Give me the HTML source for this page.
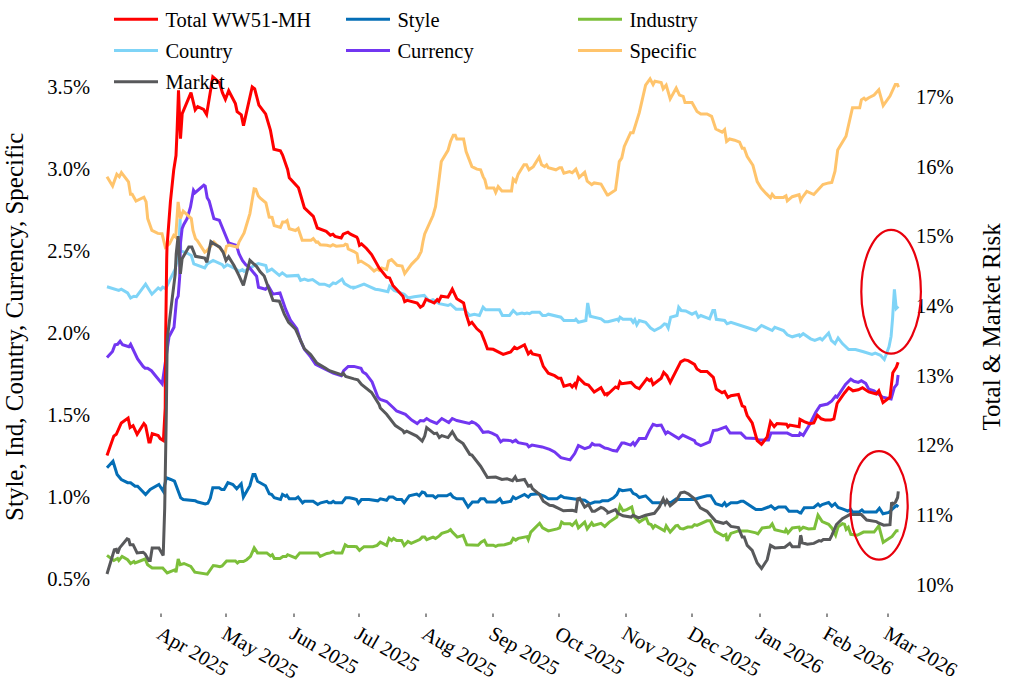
<!DOCTYPE html>
<html><head><meta charset="utf-8"><title>Risk chart</title>
<style>
html,body{margin:0;padding:0;background:#fff;}
body{width:1015px;height:694px;overflow:hidden;font-family:"Liberation Serif",serif;}
svg{display:block}
svg text{font-family:"Liberation Serif",serif;fill:#000;}
</style></head><body>
<svg width="1015" height="694" viewBox="0 0 1015 694">
<rect width="1015" height="694" fill="#fff"/>
<g id="lines">
<polyline points="107.0,467.7 113.0,461.2 117.1,474.4 121.3,479.5 127.6,482.7 130.6,482.7 135.1,486.2 137.6,486.2 145.6,494.5 150.2,489.5 158.9,484.5 163.2,491.2 166.4,477.7 170.7,479.5 174.5,481.2 180.7,497.8 183.2,499.5 195.3,500.8 197.8,502.0 205.3,504.0 207.8,503.3 210.3,498.3 212.8,487.7 219.1,487.7 221.6,489.5 224.1,489.5 227.9,482.7 232.9,484.5 236.7,488.7 241.2,483.7 243.4,497.0 249.9,485.7 253.0,474.4 255.0,474.4 257.5,481.2 265.5,485.7 269.3,493.8 271.8,494.5 274.3,497.8 280.5,499.5 282.5,494.5 285.6,496.3 286.8,495.3 289.3,498.8 295.6,498.8 298.1,497.0 302.6,502.8 304.4,501.3 313.1,501.3 317.7,504.5 320.7,502.8 326.9,501.3 328.7,502.8 331.2,502.8 333.2,501.3 335.2,502.8 342.0,502.8 345.7,497.8 349.5,497.8 354.0,498.8 356.5,499.5 358.5,503.3 361.5,499.5 369.0,499.5 377.8,500.8 380.3,498.8 386.6,500.3 389.1,497.0 392.9,497.0 396.6,499.5 401.6,499.5 404.2,502.8 409.2,495.8 416.7,494.0 419.2,495.8 422.2,492.0 424.7,492.8 426.7,495.8 433.0,495.8 435.5,497.8 438.0,495.8 446.8,495.8 450.5,493.8 453.0,497.0 456.8,498.8 463.1,498.8 468.1,507.0 472.4,502.0 478.1,502.0 480.6,498.8 484.4,498.8 486.9,502.0 495.7,502.0 499.9,498.8 502.4,502.8 510.7,501.3 513.2,497.0 515.7,498.8 524.5,494.5 528.3,497.0 530.8,494.5 538.3,493.8 544.6,496.3 548.3,498.8 557.1,498.8 560.9,495.8 564.1,497.5 578.4,499.5 584.7,500.3 589.7,503.8 594.7,502.0 599.7,502.0 602.2,500.8 608.0,500.8 613.5,497.8 616.8,494.5 619.3,489.5 622.5,490.7 630.6,489.5 633.1,493.3 636.1,494.5 639.3,497.5 645.6,495.8 652.6,502.8 661.9,502.8 664.4,501.3 670.7,502.8 676.2,498.8 678.7,499.5 694.5,499.5 699.5,497.8 707.0,495.8 710.8,495.8 715.8,503.8 722.1,505.8 724.6,502.8 726.4,505.8 730.9,502.8 737.1,502.8 740.9,501.3 743.4,501.3 755.9,509.6 761.5,509.6 768.5,507.0 771.0,505.8 774.8,509.1 778.5,507.0 785.5,507.0 789.0,511.3 797.3,511.3 800.6,513.3 800.0,514.1 804.2,507.8 813.8,507.4 818.0,504.0 820.1,506.1 822.2,504.6 828.6,502.5 831.8,506.1 835.0,503.5 838.1,507.4 842.4,508.8 847.7,511.0 850.8,509.5 852.5,512.0 859.3,512.0 861.9,509.9 864.0,512.0 876.3,512.0 879.4,508.2 883.0,513.7 889.0,512.4 891.5,510.0 895.6,506.1 896.7,505.6 898.3,506.9" fill="none" stroke="#046eb6" stroke-width="3.0" stroke-linejoin="miter" stroke-miterlimit="3" stroke-linecap="butt"/>
<polyline points="107.0,555.4 113.8,560.5 117.6,558.5 118.8,560.5 122.1,556.4 127.6,559.7 130.6,563.5 133.9,561.5 135.1,563.0 145.1,559.0 147.6,564.7 152.2,568.0 162.7,568.0 167.2,573.0 175.2,569.7 176.0,572.2 178.2,559.0 180.2,564.7 184.0,563.5 190.8,566.5 194.8,572.2 207.3,574.2 213.3,565.5 216.6,566.0 219.9,566.7 222.1,566.0 226.6,561.0 235.4,561.0 237.4,563.0 239.2,561.5 243.4,561.5 246.7,559.7 250.5,556.4 254.2,547.9 257.5,552.9 266.8,552.9 270.5,555.9 272.3,554.7 274.3,558.5 280.0,558.5 283.0,556.4 286.1,556.4 287.6,554.7 295.6,557.9 299.8,552.9 317.7,552.9 320.2,556.4 326.9,553.4 330.2,552.9 333.2,551.4 335.2,552.9 342.0,552.9 345.2,544.7 347.7,546.4 354.0,546.4 356.5,546.7 359.5,550.4 364.0,546.7 372.8,546.7 377.1,545.4 380.3,542.2 386.6,545.4 389.1,538.4 391.6,540.4 393.6,538.4 396.6,540.4 401.6,540.4 404.2,545.4 407.9,541.4 411.2,543.4 419.7,539.6 422.2,537.1 424.7,537.1 426.7,539.6 433.0,537.1 435.5,538.4 439.3,535.9 441.8,533.4 448.0,531.4 450.5,529.6 452.3,532.1 457.3,537.1 463.1,535.4 466.8,544.7 478.1,545.2 481.1,542.2 484.4,540.4 486.9,545.2 493.2,545.2 495.7,546.4 498.2,545.2 504.5,544.7 510.7,542.9 513.2,538.4 515.7,540.1 518.2,538.4 527.0,536.6 528.3,539.6 530.8,532.1 539.6,523.3 542.6,527.9 548.3,530.9 557.1,528.9 559.6,527.9 561.6,522.1 564.1,523.8 570.1,523.8 572.2,525.4 575.9,521.3 578.4,527.9 584.7,522.1 587.2,528.9 591.7,522.8 593.5,525.4 601.0,523.3 604.8,526.4 608.0,523.3 609.3,522.1 616.8,517.1 620.0,505.8 623.0,510.8 626.8,509.6 631.8,507.0 634.3,517.1 639.3,522.1 646.1,517.8 648.6,523.8 651.1,524.6 653.1,527.9 655.1,525.4 664.4,530.9 666.2,525.9 670.2,532.1 675.7,525.9 677.7,525.4 680.2,528.4 683.2,528.9 687.7,527.1 692.0,527.1 694.5,524.6 697.0,525.4 707.0,520.8 710.3,520.8 715.3,531.4 723.3,535.9 725.9,534.6 727.1,540.9 730.9,533.4 738.4,530.9 747.2,530.9 755.9,532.9 757.9,533.9 762.2,527.9 769.7,527.1 772.2,523.8 774.8,529.6 784.8,532.1 786.0,529.6 788.0,532.9 792.3,527.9 799.1,527.1 800.0,530.0 803.2,527.3 808.5,529.0 814.4,528.5 818.0,515.2 822.2,521.6 828.6,524.3 831.8,527.9 835.6,535.3 838.1,526.8 842.4,523.7 844.5,524.3 846.2,529.4 848.3,527.3 850.8,534.3 857.2,535.3 863.5,532.1 874.1,532.1 878.8,525.8 883.2,542.3 892.1,536.4 896.4,530.7 898.5,530.7" fill="none" stroke="#7cbf3a" stroke-width="3.0" stroke-linejoin="miter" stroke-miterlimit="3" stroke-linecap="butt"/>
<polyline points="107.0,286.7 118.8,290.4 121.3,289.2 127.6,292.9 130.6,297.9 133.9,296.2 136.4,296.7 145.6,284.2 151.9,294.2 158.2,287.9 160.7,289.7 162.7,287.2 165.7,288.7 170.2,279.1 175.2,269.1 178.7,253.8 180.1,218.6 180.7,250.5 182.1,251.3 187.1,253.0 191.3,255.5 193.8,263.9 204.7,268.0 207.2,263.9 213.1,260.5 222.3,264.7 224.0,267.2 227.3,264.7 235.7,268.9 239.0,271.4 242.4,269.7 244.1,271.4 255.8,264.7 258.3,263.5 265.8,265.5 267.5,271.4 271.8,269.1 279.3,275.4 282.3,272.9 286.8,276.1 298.1,275.4 300.6,280.4 304.4,279.1 308.1,280.4 312.6,279.6 319.4,284.2 324.4,284.2 329.4,286.2 333.2,282.9 335.7,283.6 342.0,279.1 344.5,283.6 350.8,287.2 354.0,287.2 354.0,287.9 364.0,284.2 369.5,286.7 375.3,289.2 379.1,289.7 387.9,291.7 389.6,286.2 394.1,290.4 404.2,294.2 407.9,297.9 414.2,296.7 424.2,295.4 429.2,301.2 433.0,299.7 439.3,303.7 448.0,305.5 450.5,304.2 456.1,309.2 464.3,309.2 469.3,315.5 474.4,314.2 479.4,315.5 483.1,307.2 485.6,309.7 499.4,309.7 502.4,315.5 509.5,315.5 513.2,310.5 517.0,314.2 522.0,313.0 524.5,313.7 527.0,313.0 529.5,313.7 532.0,312.2 539.6,312.2 542.6,315.5 545.8,315.5 548.3,314.2 560.9,317.2 563.9,320.5 574.7,320.5 575.9,319.3 578.4,322.3 585.9,320.5 587.7,303.0 590.2,316.2 601.0,318.8 604.8,321.8 608.0,321.8 617.5,319.3 618.5,320.5 620.0,317.2 623.0,319.3 631.1,319.3 633.1,322.3 634.8,319.8 636.8,324.8 639.3,320.5 645.6,322.3 650.6,328.0 654.4,330.5 660.7,327.3 664.4,323.8 666.2,324.3 668.2,328.0 670.7,317.2 677.0,315.5 678.7,307.2 681.2,310.5 685.7,311.0 692.0,314.2 695.8,312.2 698.3,317.2 700.8,315.5 709.6,318.8 712.8,310.5 714.6,310.5 716.3,319.3 724.6,320.5 727.1,323.8 730.9,322.3 748.4,328.0 755.9,330.5 761.5,325.5 772.2,330.5 774.8,327.3 783.5,330.5 787.3,334.8 792.3,336.8 799.1,334.8 800.0,336.2 803.2,333.7 810.6,338.8 814.8,340.4 820.1,338.3 822.2,340.0 828.6,333.0 831.3,340.4 835.0,343.6 838.1,337.9 842.4,343.6 848.7,349.5 855.5,349.5 863.5,351.7 872.0,354.4 875.2,353.1 880.5,355.3 884.3,359.5 886.8,352.7 889.0,346.8 891.1,336.2 892.6,318.0 893.5,303.0 894.4,289.4 896.2,308.5 898.4,306.5" fill="none" stroke="#7fd4f7" stroke-width="3.0" stroke-linejoin="miter" stroke-miterlimit="3" stroke-linecap="butt"/>
<polyline points="107.0,357.4 112.5,351.4 115.0,344.8 117.6,344.3 120.1,341.3 122.6,344.8 128.8,346.8 130.6,344.3 137.6,358.9 143.1,366.4 145.1,368.2 147.6,368.2 151.4,370.7 162.2,383.9 164.7,366.9 169.0,336.8 174.0,327.3 176.5,299.7 178.2,296.2 179.7,276.6 180.4,243.8 182.1,228.7 183.8,224.5 187.1,218.6 190.5,206.9 193.5,190.2 195.1,192.7 203.9,185.1 205.2,186.0 207.2,197.7 209.2,201.0 213.9,218.6 219.3,220.3 228.6,242.9 236.5,245.4 239.0,253.8 242.4,260.5 245.7,264.7 249.1,267.2 256.6,276.2 258.5,287.2 265.5,289.2 268.5,286.2 273.0,294.2 280.0,292.9 285.6,309.2 290.6,320.5 296.8,328.8 300.6,340.6 304.4,349.3 310.6,356.9 315.6,364.4 320.7,366.9 325.7,369.4 333.2,373.2 341.2,375.7 343.7,370.7 348.2,366.4 354.0,366.4 361.0,368.2 362.8,371.9 366.0,373.9 372.1,381.9 377.8,397.0 380.3,399.5 386.6,401.5 393.6,408.0 396.6,411.0 405.4,414.3 411.7,420.0 417.2,423.5 420.4,420.5 423.7,421.0 426.7,418.5 430.5,421.0 436.7,423.5 441.8,418.5 448.8,422.5 452.3,418.5 456.8,420.5 469.3,423.5 471.9,421.8 475.6,423.5 478.6,426.1 483.1,432.3 488.2,431.8 491.9,433.1 496.9,435.6 500.7,441.9 503.2,440.1 510.7,440.6 512.5,441.9 515.7,440.1 518.2,442.6 527.0,444.4 528.8,446.9 532.0,445.1 542.1,446.9 549.6,449.4 554.6,451.9 560.9,457.6 570.1,459.9 574.7,453.6 578.4,445.6 584.7,448.6 589.7,446.9 592.2,443.6 594.7,445.1 599.7,445.1 604.8,448.1 608.0,448.6 613.0,450.6 616.8,451.1 621.8,443.1 624.3,443.1 630.6,445.1 633.1,442.6 634.8,445.1 639.3,438.6 645.6,438.6 649.4,430.6 653.1,424.3 656.9,425.6 661.2,425.1 665.7,433.6 667.7,431.8 678.7,438.6 682.7,435.1 694.5,440.6 695.8,443.1 700.8,445.6 709.6,441.9 713.3,430.6 717.1,430.1 725.9,426.8 730.1,433.1 740.9,433.1 745.9,438.1 755.9,438.6 758.5,440.1 768.5,440.1 771.0,433.1 787.3,433.1 792.3,435.6 799.1,435.6 800.0,433.2 803.2,435.3 809.5,424.7 815.9,412.0 820.1,405.7 827.5,404.0 831.8,401.0 835.6,396.1 837.1,397.2 845.5,384.5 850.8,379.2 854.0,381.3 858.3,382.4 861.4,380.7 865.7,383.4 868.8,389.1 874.1,390.8 882.6,397.2 891.1,398.9 894.3,387.7 897.0,384.1 898.1,375.0" fill="none" stroke="#7236f1" stroke-width="3.0" stroke-linejoin="miter" stroke-miterlimit="3" stroke-linecap="butt"/>
<polyline points="107.0,176.8 112.6,186.0 116.8,174.2 119.3,176.8 121.4,172.6 128.5,181.8 130.5,194.3 132.2,194.3 136.0,201.0 143.9,197.2 146.1,201.9 147.7,218.6 151.9,230.4 157.8,233.4 162.0,233.7 165.3,247.1 169.5,243.8 173.7,235.4 175.7,237.1 178.1,201.9 180.4,218.6 183.2,211.1 191.3,218.6 193.0,230.4 195.5,238.7 197.2,240.4 204.7,252.1 207.2,250.5 213.9,242.1 220.6,248.8 224.8,253.8 226.5,246.3 229.0,245.1 237.4,247.1 239.0,242.1 244.1,232.9 249.9,213.6 254.1,188.8 255.8,189.3 258.3,196.0 260.0,197.8 265.9,202.9 269.2,217.1 272.1,217.4 274.2,225.5 280.4,227.5 282.6,222.1 285.1,222.1 287.1,220.5 289.3,228.8 295.5,230.5 298.2,228.5 302.2,240.2 311.1,240.2 313.3,238.5 316.1,242.2 317.8,241.9 320.3,244.7 327.0,245.2 330.4,246.2 332.9,244.7 336.2,246.2 343.8,245.6 345.4,244.2 347.1,244.7 348.2,249.0 354.0,251.6 357.0,253.6 358.5,262.1 361.0,261.1 369.0,266.1 374.1,271.1 377.1,269.1 379.1,270.4 381.6,267.9 386.6,269.6 388.6,261.1 391.6,259.6 397.1,265.3 402.1,266.1 404.7,273.6 411.7,264.1 417.9,257.8 421.2,251.6 423.0,241.5 424.7,234.0 433.0,215.5 435.5,206.7 438.0,187.9 441.3,161.6 448.0,150.3 450.5,141.5 453.3,135.2 455.3,135.2 456.8,139.0 463.6,139.0 466.1,151.5 471.9,166.6 476.9,169.1 480.6,169.8 483.1,176.6 484.9,179.9 486.9,187.9 493.9,187.9 495.7,192.4 498.2,186.6 501.9,190.9 511.5,190.9 513.2,179.1 515.7,181.6 518.2,174.1 524.0,164.8 526.5,164.8 529.0,169.8 533.3,166.6 539.1,157.3 541.6,164.8 544.6,166.6 546.6,164.8 548.3,167.8 555.9,169.8 559.6,167.8 561.6,167.8 563.9,173.3 569.6,171.6 572.2,172.8 575.9,169.1 579.2,177.4 584.7,172.3 587.2,181.1 591.7,184.6 594.2,182.9 601.0,184.1 607.3,194.9 608.0,194.9 615.5,189.9 619.3,161.6 621.8,157.8 624.3,146.5 630.6,132.7 633.1,132.7 639.3,112.7 645.6,85.1 650.1,78.8 653.1,84.6 654.9,81.3 661.2,82.6 663.2,88.8 666.2,85.1 670.2,98.9 676.2,88.1 679.5,95.1 683.2,96.4 685.0,102.6 692.0,102.6 697.0,111.4 700.8,113.9 707.0,113.9 711.6,116.4 715.8,129.0 722.1,132.2 724.6,129.7 726.6,141.5 729.6,139.0 734.6,140.2 739.6,142.2 742.2,148.3 744.2,148.3 747.2,156.5 752.9,165.3 757.2,181.6 761.0,187.9 766.0,193.4 770.5,197.9 772.2,194.2 774.8,197.4 783.5,197.4 786.0,195.9 787.3,200.9 792.3,196.7 799.1,194.7 800.6,200.4 802.1,197.7 806.8,191.3 813.8,194.5 822.9,184.5 828.6,182.9 831.8,182.4 835.0,171.2 837.7,150.0 846.0,136.3 852.5,107.7 859.7,107.7 861.4,99.8 864.0,98.1 865.7,99.8 868.8,97.7 874.1,95.0 878.8,89.7 883.2,105.5 890.0,96.0 895.3,84.4 897.4,84.4 898.5,87.1" fill="none" stroke="#ffc46c" stroke-width="3.0" stroke-linejoin="miter" stroke-miterlimit="3" stroke-linecap="butt"/>
<polyline points="107.0,455.6 113.8,436.1 116.3,434.3 121.3,423.0 128.1,418.0 130.1,427.6 133.1,425.6 137.1,434.3 143.9,423.5 145.6,425.6 148.9,441.9 150.2,441.9 152.2,433.6 158.2,435.6 160.2,438.6 163.4,440.6 165.2,408.0 165.7,334.3 166.7,259.1 167.0,247.1 170.4,201.9 173.7,170.1 176.0,155.5 177.1,130.4 178.5,90.2 180.5,138.7 182.2,113.6 191.0,92.7 195.2,109.9 197.7,106.6 203.6,109.4 206.6,114.4 212.8,76.8 219.5,82.6 222.4,92.7 225.4,99.4 228.7,90.7 235.4,103.6 237.1,111.6 241.3,114.9 243.5,125.7 252.2,86.8 254.7,88.8 258.9,105.2 265.6,113.9 270.4,130.0 273.9,149.3 280.4,150.9 282.6,155.1 287.6,169.4 289.3,177.7 298.5,187.8 301.0,196.2 304.4,207.9 313.3,216.3 317.3,228.0 326.2,231.3 330.4,235.2 332.9,234.2 335.0,236.4 341.2,238.0 343.2,234.2 347.9,232.2 350.5,234.2 356.8,237.2 357.8,239.0 359.5,245.3 361.5,244.0 366.5,248.5 371.6,254.6 379.1,267.9 386.6,277.1 389.6,277.9 392.9,285.4 402.9,296.2 404.7,301.7 407.2,300.4 417.2,303.0 420.4,307.2 423.0,305.5 426.0,299.2 434.2,303.0 437.2,299.7 438.8,301.2 441.3,296.2 448.0,297.2 452.3,289.2 456.8,298.7 463.6,303.0 466.1,314.2 469.3,324.3 471.9,322.3 476.9,328.8 481.1,332.3 484.4,340.6 487.4,348.8 493.2,349.3 500.7,353.1 503.2,354.4 510.7,351.9 514.5,347.3 517.0,348.8 524.5,344.8 528.3,353.9 530.8,351.4 532.5,353.9 539.6,355.6 543.3,366.4 548.3,373.2 554.6,375.7 558.4,378.2 560.9,378.2 563.9,386.2 570.1,384.5 572.2,387.0 574.7,383.9 575.9,386.5 578.4,377.7 584.7,383.9 588.5,385.0 594.2,392.0 601.0,387.7 604.8,394.5 608.0,393.2 608.0,394.0 615.5,387.0 618.0,388.2 620.0,381.9 621.8,383.7 631.1,382.4 635.6,387.0 639.3,388.7 646.9,378.7 649.4,380.7 651.1,379.4 653.1,384.5 661.2,378.2 663.7,372.4 666.9,375.7 670.2,382.4 680.7,361.9 684.5,359.9 688.2,360.6 694.5,364.4 697.0,368.9 700.8,371.4 707.0,371.4 713.3,377.4 716.3,389.0 722.1,392.7 724.6,391.5 727.9,397.5 730.9,395.7 738.4,394.5 742.2,405.8 744.7,407.0 745.4,410.0 747.2,415.5 752.2,423.0 757.2,440.6 761.5,444.4 767.2,436.8 770.5,421.8 774.2,426.6 777.0,423.5 786.5,424.3 788.0,426.8 789.8,425.1 799.1,426.8 800.0,419.4 804.2,421.6 809.5,423.7 813.8,423.0 817.4,415.2 821.2,418.8 825.4,420.1 830.7,420.1 833.9,418.8 837.1,403.5 844.5,393.0 848.7,387.7 853.0,390.8 858.3,389.8 862.5,387.7 868.8,391.9 876.3,394.0 878.8,390.8 883.0,402.5 890.0,397.2 892.8,372.8 896.4,367.1 898.1,362.2" fill="none" stroke="#ff0000" stroke-width="3.0" stroke-linejoin="miter" stroke-miterlimit="3" stroke-linecap="butt"/>
<polyline points="107.0,574.0 111.3,559.7 114.3,549.7 116.3,549.2 117.6,553.4 119.6,547.9 127.1,538.9 128.8,539.6 130.1,544.7 133.1,544.7 137.1,552.9 143.1,552.2 145.1,553.9 148.9,560.5 150.2,560.5 152.2,547.9 158.9,547.9 160.9,551.4 163.2,555.4 164.7,508.3 166.4,408.0 167.2,339.3 171.5,304.2 175.2,274.1 176.2,253.8 178.1,236.2 180.4,273.9 182.1,258.8 188.8,247.1 191.8,247.1 195.5,256.3 204.7,258.0 206.9,262.2 210.9,241.6 213.9,243.8 219.8,247.1 223.1,252.1 226.0,260.5 228.6,256.8 234.0,265.5 239.0,275.6 243.4,285.4 249.9,260.3 256.7,266.6 260.0,271.6 264.2,276.1 273.0,300.4 279.3,301.2 284.3,314.2 288.6,322.3 295.6,329.3 304.4,348.8 310.6,354.4 316.9,363.1 325.7,368.2 329.4,370.7 342.0,374.9 343.2,373.2 345.7,376.4 354.0,378.9 357.8,379.9 361.5,384.5 371.6,392.5 379.1,404.5 380.3,408.0 386.6,414.3 395.4,425.6 402.9,430.6 404.2,432.6 406.7,431.1 416.7,436.1 422.2,441.1 424.7,436.1 426.7,427.6 434.2,433.6 436.7,433.1 439.3,437.6 441.8,435.6 448.0,437.6 452.3,431.8 456.8,439.3 463.1,443.6 469.8,454.4 471.9,455.1 480.6,466.2 487.4,477.5 495.7,477.0 501.9,479.5 507.0,478.7 512.5,480.7 515.2,477.0 517.0,480.7 524.5,479.5 528.3,486.2 530.8,485.2 532.5,488.7 539.6,494.5 543.3,501.3 549.6,505.3 553.3,505.8 563.4,510.8 572.2,510.3 575.9,511.3 577.7,498.8 579.7,498.3 584.7,507.0 588.5,504.5 592.2,511.3 594.7,511.3 601.0,507.5 603.5,508.3 608.0,512.1 608.0,512.8 615.5,509.6 618.0,513.3 623.0,515.8 631.1,517.1 633.1,515.3 638.6,517.8 645.6,515.3 654.4,513.3 659.4,507.0 663.2,498.8 665.2,503.8 666.9,500.3 670.2,505.8 676.2,500.8 680.7,492.8 684.5,492.0 688.2,493.8 694.5,498.8 700.3,507.8 707.0,511.3 715.8,521.3 723.3,523.3 726.4,522.1 730.9,526.4 738.4,527.6 742.2,537.1 744.2,537.1 747.2,545.4 752.2,550.4 757.2,563.0 761.5,568.5 767.2,559.7 770.5,545.4 774.8,547.9 784.8,547.2 789.8,543.4 792.3,546.7 799.1,546.7 800.6,535.4 801.1,536.4 802.1,542.7 807.4,544.2 813.8,543.4 819.1,540.6 821.2,541.2 823.3,539.6 829.7,539.6 831.8,535.3 836.4,524.7 842.4,518.8 849.8,514.6 861.4,514.6 866.7,520.1 876.3,521.6 877.9,522.6 883.7,525.2 890.0,524.7 891.6,502.3 892.9,504.3 895.5,502.0 897.6,497.5 898.3,491.3" fill="none" stroke="#58595b" stroke-width="3.0" stroke-linejoin="miter" stroke-miterlimit="3" stroke-linecap="butt"/>
</g>
<g id="axes">
<text x="90" y="94.4" font-size="20.5" text-anchor="end">3.5%</text>
<text x="90" y="176.3" font-size="20.5" text-anchor="end">3.0%</text>
<text x="90" y="258.2" font-size="20.5" text-anchor="end">2.5%</text>
<text x="90" y="340.1" font-size="20.5" text-anchor="end">2.0%</text>
<text x="90" y="422.0" font-size="20.5" text-anchor="end">1.5%</text>
<text x="90" y="503.9" font-size="20.5" text-anchor="end">1.0%</text>
<text x="90" y="585.8" font-size="20.5" text-anchor="end">0.5%</text>
<text x="916" y="103.9" font-size="20.5">17%</text>
<text x="916" y="173.6" font-size="20.5">16%</text>
<text x="916" y="243.3" font-size="20.5">15%</text>
<text x="916" y="313.0" font-size="20.5">14%</text>
<text x="916" y="382.7" font-size="20.5">13%</text>
<text x="916" y="452.4" font-size="20.5">12%</text>
<text x="916" y="522.1" font-size="20.5">11%</text>
<text x="916" y="591.8" font-size="20.5">10%</text>
<line x1="161" y1="613.5" x2="161" y2="617" stroke="#222" stroke-width="1"/>
<text transform="translate(155.5,637.5) rotate(30)" font-size="20.5">Apr 2025</text>
<line x1="226" y1="613.5" x2="226" y2="617" stroke="#222" stroke-width="1"/>
<text transform="translate(220.5,637.5) rotate(30)" font-size="20.5">May 2025</text>
<line x1="294" y1="613.5" x2="294" y2="617" stroke="#222" stroke-width="1"/>
<text transform="translate(288.5,637.5) rotate(30)" font-size="20.5">Jun 2025</text>
<line x1="359" y1="613.5" x2="359" y2="617" stroke="#222" stroke-width="1"/>
<text transform="translate(353.5,637.5) rotate(30)" font-size="20.5">Jul 2025</text>
<line x1="426" y1="613.5" x2="426" y2="617" stroke="#222" stroke-width="1"/>
<text transform="translate(420.5,637.5) rotate(30)" font-size="20.5">Aug 2025</text>
<line x1="493" y1="613.5" x2="493" y2="617" stroke="#222" stroke-width="1"/>
<text transform="translate(487.5,637.5) rotate(30)" font-size="20.5">Sep 2025</text>
<line x1="559" y1="613.5" x2="559" y2="617" stroke="#222" stroke-width="1"/>
<text transform="translate(553.5,637.5) rotate(30)" font-size="20.5">Oct 2025</text>
<line x1="626" y1="613.5" x2="626" y2="617" stroke="#222" stroke-width="1"/>
<text transform="translate(620.5,637.5) rotate(30)" font-size="20.5">Nov 2025</text>
<line x1="692" y1="613.5" x2="692" y2="617" stroke="#222" stroke-width="1"/>
<text transform="translate(686.5,637.5) rotate(30)" font-size="20.5">Dec 2025</text>
<line x1="760" y1="613.5" x2="760" y2="617" stroke="#222" stroke-width="1"/>
<text transform="translate(754.5,637.5) rotate(30)" font-size="20.5">Jan 2026</text>
<line x1="827" y1="613.5" x2="827" y2="617" stroke="#222" stroke-width="1"/>
<text transform="translate(821.5,637.5) rotate(30)" font-size="20.5">Feb 2026</text>
<line x1="888" y1="613.5" x2="888" y2="617" stroke="#222" stroke-width="1"/>
<text transform="translate(882.5,637.5) rotate(30)" font-size="20.5">Mar 2026</text>

<text transform="translate(22.5,326.8) rotate(-90)" font-size="25" text-anchor="middle">Style, Ind, Country, Currency, Specific</text>
<text transform="translate(1000,326.8) rotate(-90)" font-size="25" text-anchor="middle">Total &amp; Market Risk</text>
</g>
<g id="annot">
<ellipse cx="891.1" cy="291.7" rx="29.8" ry="61.9" fill="none" stroke="#e8000c" stroke-width="2.2"/>
<ellipse cx="879" cy="505.4" rx="28.7" ry="54.3" fill="none" stroke="#e8000c" stroke-width="2.2"/>
</g>
<g id="legend">
<line x1="114" y1="19.3" x2="158" y2="19.3" stroke="#ff0000" stroke-width="3"/>
<text x="165.4" y="26.8" font-size="20.5">Total WW51-MH</text>
<line x1="346" y1="19.3" x2="390" y2="19.3" stroke="#046eb6" stroke-width="3"/>
<text x="397.4" y="26.8" font-size="20.5">Style</text>
<line x1="578" y1="19.3" x2="622" y2="19.3" stroke="#7cbf3a" stroke-width="3"/>
<text x="629.4" y="26.8" font-size="20.5">Industry</text>
<line x1="114" y1="50.55" x2="158" y2="50.55" stroke="#7fd4f7" stroke-width="3"/>
<text x="165.4" y="58.0" font-size="20.5">Country</text>
<line x1="346" y1="50.55" x2="390" y2="50.55" stroke="#7236f1" stroke-width="3"/>
<text x="397.4" y="58.0" font-size="20.5">Currency</text>
<line x1="578" y1="50.55" x2="622" y2="50.55" stroke="#ffc46c" stroke-width="3"/>
<text x="629.4" y="58.0" font-size="20.5">Specific</text>
<line x1="114" y1="81.8" x2="158" y2="81.8" stroke="#58595b" stroke-width="3"/>
<text x="165.4" y="89.3" font-size="20.5">Market</text>
</g>
</svg>
</body></html>
